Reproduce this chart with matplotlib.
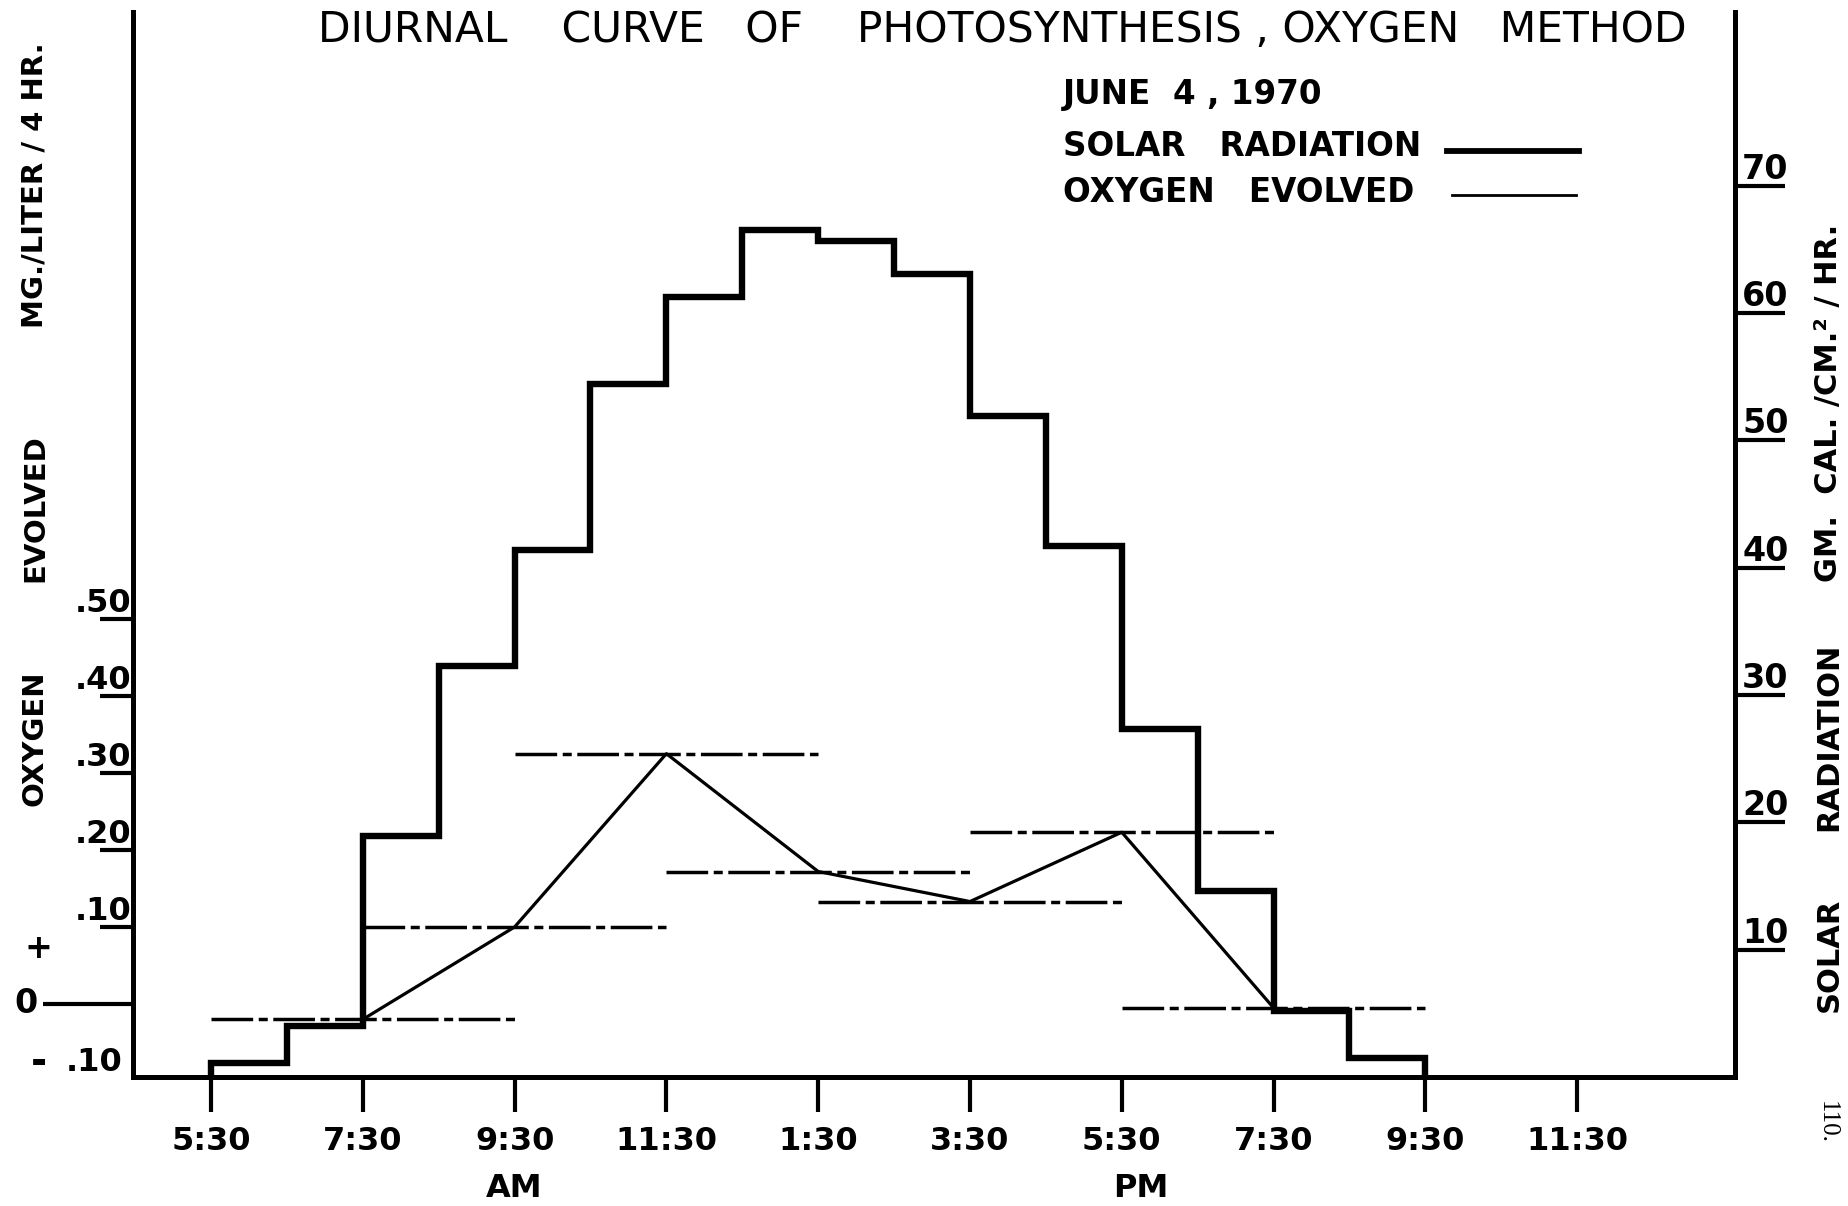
import matplotlib
matplotlib.use("Agg")
import matplotlib.pyplot as plt
from matplotlib.lines import Line2D
from matplotlib.transforms import blended_transform_factory

# solar radiation, gm. cal./cm.2/hr., one step per hour from 5:30 am to 9:30 pm
hour_edges = [5.5, 6.5, 7.5, 8.5, 9.5, 10.5, 11.5, 12.5, 13.5,
              14.5, 15.5, 16.5, 17.5, 18.5, 19.5, 20.5, 21.5]
solar = [1.1, 4.0, 18.9, 32.3, 41.4, 54.4, 61.3, 66.5,
         65.7, 63.1, 51.9, 41.7, 27.3, 14.6, 5.2, 1.5]

# oxygen evolved, mg./liter/4 hr., 4 hour bottles
o2_start = [5.5, 7.5, 9.5, 11.5, 13.5, 15.5, 17.5]
o2_end = [9.5, 11.5, 13.5, 15.5, 17.5, 19.5, 21.5]
o2_mid = [7.5, 9.5, 11.5, 13.5, 15.5, 17.5, 19.5]
o2_values = [-0.02, 0.10, 0.325, 0.172, 0.133, 0.223, -0.005]

time_ticks = [5.5, 7.5, 9.5, 11.5, 13.5, 15.5, 17.5, 19.5, 21.5, 23.5]
time_labels = ["5:30", "7:30", "9:30", "11:30", "1:30", "3:30",
               "5:30", "7:30", "9:30", "11:30"]
o2_ticks = [0.1, 0.2, 0.3, 0.4, 0.5]
o2_tick_labels = [".10", ".20", ".30", ".40", ".50"]
solar_ticks = [10, 20, 30, 40, 50, 60, 70]
solar_tick_labels = ["10", "20", "30", "40", "50", "60", "70"]

plt.rcParams['font.family'] = ['DejaVu Sans']

fig = plt.figure(figsize=(18.48, 12.06), dpi=100)
ax = fig.add_axes([0.07197, 0.10697, 0.86688, 0.88308])
ax2 = ax.twinx()

ax.set_xlim(4.472, 25.58)
ax.set_ylim(-0.0948, 1.288)
ax2.set_ylim(0, 83.66)

# spines like the hand drawn frame
for s in ['top', 'right']:
    ax.spines[s].set_visible(False)
for s in ['top', 'left', 'bottom']:
    ax2.spines[s].set_visible(False)
for s in ['left', 'bottom']:
    ax.spines[s].set_linewidth(3.6)
ax2.spines['right'].set_linewidth(3.6)

# time axis
ax.set_xticks(time_ticks, time_labels)
ax.tick_params(axis='x', direction='out', length=25, width=3, pad=10,
               labelsize=23)
for t in ax.get_xticklabels():
    t.set_fontweight('bold')

# oxygen axis, ticks with the number sitting on top of them
ax.set_yticks(o2_ticks, [""] * len(o2_ticks))
ax.set_yticks([0], [""], minor=True)
ax.tick_params(axis='y', which='major', direction='out', length=24, width=3)
ax.tick_params(axis='y', which='minor', direction='out', length=65, width=3)
ytr = ax.get_yaxis_transform()
for v, lbl in zip(o2_ticks, o2_tick_labels):
    ax.text(-0.001, v, lbl, transform=ytr, ha='right', va='bottom',
            fontsize=23, fontweight='bold')
ax.text(-0.0668, 0, "0", transform=ytr, ha='center', va='center',
        fontsize=24, fontweight='bold')
ax.text(-0.0593, 0.0714, "+", transform=ytr, ha='center', va='center',
        fontsize=24, fontweight='bold')
ax.text(-0.0587, -0.0766, "-", transform=ytr, ha='center', va='center',
        fontsize=28, fontweight='bold')
ax.text(-0.0065, -0.0766, ".10", transform=ytr, ha='right', va='center',
        fontsize=23, fontweight='bold')

# solar axis
ax2.set_yticks(solar_ticks, [""] * len(solar_ticks))
ax2.tick_params(axis='y', direction='out', length=36, width=3)
ytr2 = ax2.get_yaxis_transform()
for v, lbl in zip(solar_ticks, solar_tick_labels):
    ax2.text(1.0045, v, lbl, transform=ytr2, ha='left', va='bottom',
             fontsize=24, fontweight='bold')

# solar radiation steps
ax2.stairs(solar, hour_edges, baseline=0, fill=False, color='black',
           linewidth=4.6, joinstyle='miter')

# oxygen evolved: bottle averages and joining line
ax.hlines(o2_values, o2_start, o2_end, colors='black', linewidth=2.5,
          linestyles=[(0, (12, 1.6, 2.6, 1.6))])
ax.plot(o2_mid, o2_values, color='black', linewidth=2.3)

# titles and labels
fig.text(0.5422, 0.975,
         "DIURNAL    CURVE   OF    PHOTOSYNTHESIS , OXYGEN   METHOD",
         ha='center', va='center', fontsize=30.5)

fig.text(0.5752, 0.922, "JUNE  4 , 1970", ha='left', va='center',
         fontsize=23.5, fontweight='bold')
fig.text(0.5752, 0.8789, "SOLAR   RADIATION", ha='left', va='center',
         fontsize=23.5, fontweight='bold')
fig.text(0.5752, 0.840, "OXYGEN   EVOLVED", ha='left', va='center',
         fontsize=23.5, fontweight='bold')
fig.add_artist(Line2D([0.783, 0.8544], [0.8748, 0.8748],
                      transform=fig.transFigure, color='black', linewidth=4.2))
fig.add_artist(Line2D([0.7857, 0.8528], [0.8383, 0.8383],
                      transform=fig.transFigure, color='black', linewidth=2))

for txt, y in [("OXYGEN", 0.388), ("EVOLVED", 0.5788),
               ("MG./LITER / 4 HR.", 0.8466)]:
    fig.text(0.0189, y, txt, rotation=90, ha='center', va='center',
             fontsize=21, fontweight='bold')
for txt, y in [("SOLAR", 0.2081), ("RADIATION", 0.3889),
               ("GM.  CAL. /CM.² / HR.", 0.6658)]:
    fig.text(0.9897, y, txt, rotation=90, ha='center', va='center',
             fontsize=22, fontweight='bold')

xfig = blended_transform_factory(ax.transData, fig.transFigure)
ax.text(9.5, 0.0149, "AM", transform=xfig, ha='center', va='center',
        fontsize=23, fontweight='bold')
ax.text(17.75, 0.0149, "PM", transform=xfig, ha='center', va='center',
        fontsize=23, fontweight='bold')

fig.text(0.9886, 0.0697, "110.", rotation=270, ha='center', va='center',
         fontsize=18, family='Liberation Serif')

fig.savefig("out.png", dpi=100)
